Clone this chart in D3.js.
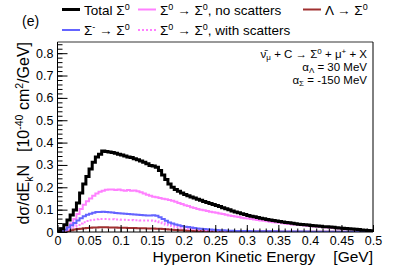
<!DOCTYPE html>
<html>
<head>
<meta charset="utf-8">
<script src="https://cdn.jsdelivr.net/npm/d3@7"></script>
<style>
  body { margin: 0; background: #fff; }
  svg { display: block; font-family: "Liberation Sans", Arial, Helvetica, sans-serif; }
  .tick text { font-size: 12.5px; fill: #000; }
  .tick line { stroke: #000; }
</style>
</head>
<body>
<div id="chart"></div>
<script>
// Histograms: 100 bins of 0.005 GeV from 0 to 0.5 (value per bin)
let binEdges = d3.range(0, 101).map(function (i) { return i * 0.005; });

let totalSigma = [
  0.005, 0.015, 0.032, 0.054, 0.076, 0.098, 0.130, 0.175, 0.215, 0.248,
  0.282, 0.312, 0.335, 0.348, 0.362, 0.360, 0.358, 0.356, 0.352, 0.348,
  0.345, 0.340, 0.336, 0.333, 0.328, 0.323, 0.318, 0.312, 0.305, 0.298,
  0.295, 0.290, 0.275, 0.255, 0.235, 0.215, 0.200, 0.190, 0.182, 0.175,
  0.168, 0.162, 0.157, 0.152, 0.147, 0.142, 0.137, 0.132, 0.127, 0.123,
  0.119, 0.114, 0.109, 0.104, 0.099, 0.094, 0.090, 0.086, 0.082, 0.078,
  0.074, 0.071, 0.068, 0.065, 0.062, 0.059, 0.056, 0.054, 0.052, 0.049,
  0.047, 0.045, 0.043, 0.041, 0.039, 0.037, 0.035, 0.033, 0.032, 0.031,
  0.029, 0.028, 0.027, 0.026, 0.024, 0.023, 0.022, 0.021, 0.019, 0.018,
  0.017, 0.016, 0.014, 0.013, 0.012, 0.011, 0.009, 0.008, 0.007, 0.006
];

let sigmaNoScatter = [
  0.000, 0.003, 0.010, 0.022, 0.038, 0.058, 0.080, 0.103, 0.122, 0.138,
  0.150, 0.162, 0.172, 0.180, 0.185, 0.189, 0.190, 0.190, 0.188, 0.190,
  0.187, 0.185, 0.188, 0.184, 0.186, 0.182, 0.178, 0.172, 0.167, 0.162,
  0.158, 0.155, 0.152, 0.149, 0.146, 0.143, 0.140, 0.135, 0.130, 0.125,
  0.120, 0.116, 0.111, 0.107, 0.103, 0.100, 0.097, 0.094, 0.091, 0.088,
  0.086, 0.083, 0.080, 0.077, 0.074, 0.072, 0.069, 0.067, 0.064, 0.062,
  0.060, 0.058, 0.056, 0.054, 0.052, 0.050, 0.048, 0.046, 0.044, 0.042,
  0.041, 0.039, 0.037, 0.036, 0.034, 0.033, 0.031, 0.030, 0.029, 0.027,
  0.026, 0.025, 0.024, 0.023, 0.021, 0.020, 0.019, 0.018, 0.017, 0.016,
  0.015, 0.014, 0.013, 0.012, 0.011, 0.010, 0.008, 0.007, 0.006, 0.005
];

let sigmaMinus = [
  0.000, 0.003, 0.010, 0.020, 0.030, 0.040, 0.052, 0.062, 0.070, 0.077,
  0.082, 0.086, 0.089, 0.090, 0.091, 0.090, 0.088, 0.087, 0.085, 0.084,
  0.083, 0.082, 0.080, 0.079, 0.078, 0.077, 0.076, 0.075, 0.074, 0.074,
  0.075, 0.073, 0.066, 0.058, 0.050, 0.043, 0.038, 0.034, 0.030, 0.027,
  0.024, 0.022, 0.020, 0.018, 0.016, 0.015, 0.013, 0.012, 0.011, 0.010,
  0.009, 0.008, 0.008, 0.007, 0.006, 0.006, 0.005, 0.005, 0.004, 0.004,
  0.004, 0.003, 0.003, 0.003, 0.003, 0.003, 0.003, 0.003, 0.003, 0.003,
  0.002, 0.002, 0.002, 0.002, 0.002, 0.002, 0.002, 0.002, 0.002, 0.002,
  0.001, 0.001, 0.001, 0.001, 0.001, 0.001, 0.001, 0.001, 0.001, 0.001,
  0.001, 0.001, 0.001, 0.001, 0.001, 0.001, 0.001, 0.001, 0.001, 0.001
];

let sigmaWithScatter = [
  0.000, 0.002, 0.005, 0.010, 0.017, 0.024, 0.031, 0.038, 0.044, 0.049,
  0.053, 0.055, 0.057, 0.058, 0.058, 0.058, 0.057, 0.057, 0.056, 0.056,
  0.055, 0.055, 0.054, 0.054, 0.053, 0.053, 0.052, 0.052, 0.051, 0.051,
  0.050, 0.048, 0.044, 0.039, 0.034, 0.030, 0.027, 0.024, 0.021, 0.019,
  0.017, 0.015, 0.014, 0.012, 0.011, 0.010, 0.009, 0.008, 0.007, 0.007,
  0.006, 0.005, 0.005, 0.004, 0.004, 0.003, 0.003, 0.003, 0.003, 0.003,
  0.002, 0.002, 0.002, 0.002, 0.002, 0.002, 0.002, 0.002, 0.002, 0.002,
  0.001, 0.001, 0.001, 0.001, 0.001, 0.001, 0.001, 0.001, 0.001, 0.001,
  0.001, 0.001, 0.001, 0.001, 0.001, 0.001, 0.001, 0.001, 0.001, 0.001,
  0.001, 0.001, 0.001, 0.001, 0.001, 0.001, 0.001, 0.001, 0.001, 0.001
];

let lambdaToSigma = [
  0.000, 0.001, 0.003, 0.005, 0.008, 0.011, 0.013, 0.015, 0.017, 0.018,
  0.019, 0.020, 0.020, 0.021, 0.021, 0.021, 0.020, 0.020, 0.020, 0.019,
  0.019, 0.019, 0.018, 0.018, 0.018, 0.017, 0.017, 0.017, 0.016, 0.016,
  0.016, 0.015, 0.014, 0.013, 0.012, 0.011, 0.010, 0.009, 0.008, 0.008,
  0.007, 0.006, 0.006, 0.005, 0.005, 0.004, 0.004, 0.003, 0.003, 0.003,
  0.002, 0.002, 0.002, 0.002, 0.002, 0.002, 0.002, 0.002, 0.002, 0.002,
  0.002, 0.002, 0.002, 0.002, 0.002, 0.002, 0.002, 0.002, 0.002, 0.002,
  0.001, 0.001, 0.001, 0.001, 0.001, 0.001, 0.001, 0.001, 0.001, 0.001,
  0.001, 0.001, 0.001, 0.001, 0.001, 0.001, 0.001, 0.001, 0.001, 0.001,
  0.001, 0.001, 0.001, 0.001, 0.001, 0.001, 0.001, 0.001, 0.001, 0.001
];

let xTicks = [0, 0.05, 0.1, 0.15, 0.2, 0.25, 0.3, 0.35, 0.4, 0.45, 0.5];
let yTicks = [0, 0.1, 0.2, 0.3, 0.4, 0.5, 0.6, 0.7, 0.8];

let colTotal = "#000000";
let colPink = "#ff80ff";
let colBlue = "#6464ff";
let colRed = "#a03030";

let width = 415;
let height = 267;
let padLeft = 57.5, padRight = 373, padTop = 42, padBottom = 232;

let xScale = d3.scaleLinear().domain([0, 0.5]).range([padLeft, padRight]);
let yScale = d3.scaleLinear().domain([0, 0.85]).range([padBottom, padTop]);

let svg = d3.select("#chart")
    .append("svg")
    .attr("width", width)
    .attr("height", height);

svg.append("defs").append("clipPath")
    .attr("id", "plotclip")
    .append("rect")
    .attr("x", padLeft).attr("y", padTop)
    .attr("width", padRight - padLeft).attr("height", padBottom - padTop);

// turn bin values into step points (left edges + closing right edge)
let toSteps = function (values) {
    let pts = values.map(function (v, i) { return { x: binEdges[i], y: v }; });
    pts.push({ x: binEdges[values.length], y: values[values.length - 1] });
    return pts;
};

let stepLine = d3.line()
    .x(function (d) { return xScale(d.x); })
    .y(function (d) { return yScale(d.y); })
    .curve(d3.curveStepAfter);

let series = [
    { values: lambdaToSigma, color: colRed, width: 2, dash: null },
    { values: sigmaWithScatter, color: colPink, width: 2, dash: "2,2" },
    { values: sigmaNoScatter, color: colPink, width: 2, dash: null },
    { values: sigmaMinus, color: colBlue, width: 2, dash: null },
    { values: totalSigma, color: colTotal, width: 3, dash: null }
];

let plot = svg.append("g").attr("clip-path", "url(#plotclip)");
series.forEach(function (s) {
    plot.append("path")
        .datum(toSteps(s.values))
        .attr("d", stepLine)
        .attr("fill", "none")
        .attr("stroke", s.color)
        .attr("stroke-width", s.width)
        .attr("stroke-dasharray", s.dash)
        .attr("stroke-linejoin", "miter");
});

// Minor ticks
svg.append("g")
    .attr("transform", "translate(0," + padBottom + ")")
    .call(d3.axisBottom(xScale).tickValues(d3.range(0, 51).map(function (i) { return i / 100; }))
        .tickSizeInner(-3.5).tickSizeOuter(0).tickFormat(""))
    .call(function (g) { g.select(".domain").remove(); });
svg.append("g")
    .attr("transform", "translate(" + padLeft + ",0)")
    .call(d3.axisLeft(yScale).tickValues(d3.range(0, 43).map(function (i) { return i / 50; }))
        .tickSizeInner(-5).tickSizeOuter(0).tickFormat(""))
    .call(function (g) { g.select(".domain").remove(); });

// Major ticks with labels
svg.append("g")
    .attr("transform", "translate(0," + padBottom + ")")
    .call(d3.axisBottom(xScale).tickValues(xTicks).tickSizeInner(-7).tickSizeOuter(0)
        .tickPadding(4).tickFormat(d3.format("~g")))
    .call(function (g) { g.select(".domain").remove(); });
svg.append("g")
    .attr("transform", "translate(" + padLeft + ",0)")
    .call(d3.axisLeft(yScale).tickValues(yTicks).tickSizeInner(-10).tickSizeOuter(0)
        .tickPadding(4).tickFormat(d3.format("~g")))
    .call(function (g) { g.select(".domain").remove(); });

// Frame
svg.append("line").attr("x1", padLeft).attr("x2", padRight).attr("y1", padTop).attr("y2", padTop)
    .attr("stroke", "#999").attr("stroke-width", 2);
svg.append("line").attr("x1", padRight).attr("x2", padRight).attr("y1", padTop).attr("y2", padBottom)
    .attr("stroke", "#000").attr("stroke-width", 1);
svg.append("line").attr("x1", padLeft).attr("x2", padRight).attr("y1", padBottom).attr("y2", padBottom)
    .attr("stroke", "#000").attr("stroke-width", 1);
svg.append("line").attr("x1", padLeft).attr("x2", padLeft).attr("y1", padTop).attr("y2", padBottom)
    .attr("stroke", "#000").attr("stroke-width", 1);

// Axis titles
let xTitle = svg.append("text")
    .attr("x", padRight).attr("y", 262)
    .attr("text-anchor", "end")
    .style("font-size", "15.5px");
xTitle.append("tspan").text("Hyperon Kinetic Energy");
xTitle.append("tspan").attr("dx", 18).text("[GeV]");

let yTitle = svg.append("text")
    .attr("transform", "translate(29," + padTop + ") rotate(-90)")
    .attr("text-anchor", "end")
    .style("font-size", "16px");
yTitle.append("tspan").text("dσ/dE");
yTitle.append("tspan").attr("dy", 4).style("font-size", "10.5px").text("k");
yTitle.append("tspan").attr("dy", -4).text("N");
yTitle.append("tspan").attr("dx", 13).text("[10");
yTitle.append("tspan").attr("dy", -6).style("font-size", "10.5px").text("-40");
yTitle.append("tspan").attr("dy", 6).text(" cm");
yTitle.append("tspan").attr("dy", -6).style("font-size", "10.5px").text("2");
yTitle.append("tspan").attr("dy", 6).text("/GeV]");

// Panel label
svg.append("text").attr("x", 22).attr("y", 26).style("font-size", "14px").text("(e)");

// Legend
let legendItems = [
    { x: 62, y: 9.5, color: colTotal, width: 3, dash: null, parts: [["Total Σ", 0], ["0", 1]] },
    { x: 138, y: 9.5, color: colPink, width: 2, dash: null, parts: [["Σ", 0], ["0", 1], [" → Σ", 0], ["0", 1], [", no scatters", 0]] },
    { x: 303, y: 9.5, color: colRed, width: 2, dash: null, parts: [["Λ → Σ", 0], ["0", 1]] },
    { x: 62, y: 30, color: colBlue, width: 2, dash: null, parts: [["Σ", 0], ["-", 1], [" → Σ", 0], ["0", 1]] },
    { x: 138, y: 30, color: colPink, width: 2, dash: "2,2", parts: [["Σ", 0], ["0", 1], [" → Σ", 0], ["0", 1], [", with scatters", 0]] }
];

legendItems.forEach(function (item) {
    svg.append("line")
        .attr("x1", item.x).attr("x2", item.x + 18)
        .attr("y1", item.y).attr("y2", item.y)
        .attr("stroke", item.color)
        .attr("stroke-width", item.width)
        .attr("stroke-dasharray", item.dash);
    let t = svg.append("text")
        .attr("x", item.x + 22).attr("y", item.y + 5)
        .style("font-size", "13.5px");
    let raised = false;
    item.parts.forEach(function (p) {
        let ts = t.append("tspan").text(p[0]);
        if (p[1] && !raised) { ts.attr("dy", -5).style("font-size", "9px"); raised = true; }
        else if (!p[1] && raised) { ts.attr("dy", 5); raised = false; }
    });
});

// Annotation box text
let noteSize = "11.5px", noteSub = "8px";
let note1 = svg.append("text").attr("x", 367).attr("y", 58)
    .attr("text-anchor", "end").style("font-size", noteSize);
note1.append("tspan").text("ν\u0304");
note1.append("tspan").attr("dy", 1.5).style("font-size", noteSub).text("μ");
note1.append("tspan").attr("dy", -1.5).text(" + C → Σ");
note1.append("tspan").attr("dy", -4).style("font-size", noteSub).text("0");
note1.append("tspan").attr("dy", 4).text(" + μ");
note1.append("tspan").attr("dy", -4).style("font-size", noteSub).text("+");
note1.append("tspan").attr("dy", 4).text(" + X");

let note2 = svg.append("text").attr("x", 367).attr("y", 71)
    .attr("text-anchor", "end").style("font-size", noteSize);
note2.append("tspan").text("α");
note2.append("tspan").attr("dy", 1.5).style("font-size", noteSub).text("Λ");
note2.append("tspan").attr("dy", -1.5).text(" = 30 MeV");

let note3 = svg.append("text").attr("x", 367).attr("y", 84)
    .attr("text-anchor", "end").style("font-size", noteSize);
note3.append("tspan").text("α");
note3.append("tspan").attr("dy", 1.5).style("font-size", noteSub).text("Σ");
note3.append("tspan").attr("dy", -1.5).text(" = -150 MeV");
</script>
</body>
</html>
